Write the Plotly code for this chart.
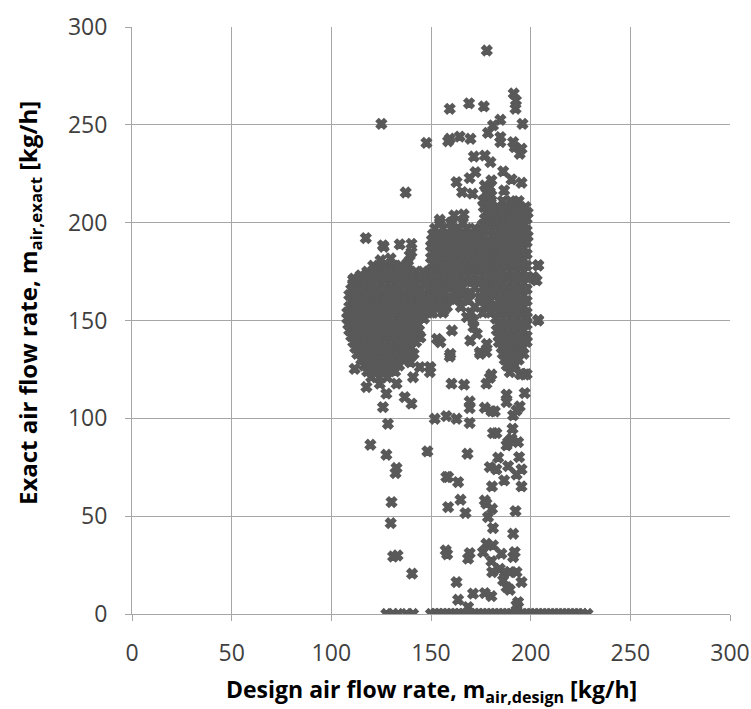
import plotly.graph_objects as go

# ---- dense cluster rows (y value, list of x values) ----
blob_rows_y = [178, 175, 172, 169, 166, 163, 160, 157, 154, 151, 148, 145, 142, 139, 136, 133, 130, 127, 124, 121]
blob_rows_x = [
    [121, 124.5, 128, 131.5, 135, 138.5],
    [118, 121.5, 125, 128.5, 132, 135.5, 139, 142.5, 146],
    [114, 117.5, 121, 124.5, 128, 131.5, 135, 138.5, 142, 145.5, 149],
    [111, 114.5, 118, 121.5, 125, 128.5, 132, 135.5, 139, 142.5, 146, 149.5, 153],
    [110, 113.5, 117, 120.5, 124, 127.5, 131, 134.5, 138, 141.5, 145, 148.5, 152, 155],
    [109, 112.5, 116, 119.5, 123, 126.5, 130, 133.5, 137, 140.5, 144, 147.5, 151, 154],
    [110, 113.5, 117, 120.5, 124, 127.5, 131, 134.5, 138, 141.5, 145, 148.5, 152, 155.5],
    [109, 112.5, 116, 119.5, 123, 126.5, 130, 133.5, 137, 140.5, 144, 147.5, 151, 154.5],
    [108, 111.5, 115, 118.5, 122, 125.5, 129, 132.5, 136, 139.5, 143, 146.5, 150],
    [108, 111.5, 115, 118.5, 122, 125.5, 129, 132.5, 136, 139.5, 143, 146.5],
    [108.5, 112, 115.5, 119, 122.5, 126, 129.5, 133, 136.5, 140, 143.5],
    [109, 112.5, 116, 119.5, 123, 126.5, 130, 133.5, 137, 140.5, 144],
    [110, 113.5, 117, 120.5, 124, 127.5, 131, 134.5, 138, 141.5],
    [111, 114.5, 118, 121.5, 125, 128.5, 132, 135.5, 139, 142.5],
    [112, 115.5, 119, 122.5, 126, 129.5, 133, 136.5, 140],
    [113, 116.5, 120, 123.5, 127, 130.5, 134, 137.5],
    [115, 118.5, 122, 125.5, 129, 132.5, 136],
    [116.5, 120, 123.5, 127, 130.5, 134],
    [118, 121.5, 125, 128.5, 132],
    [120, 124, 128],
]

mid_rows_y = [200, 197, 194, 191, 188, 185, 182, 179, 176, 173, 170, 167, 164, 161, 157, 154]
mid_rows_x = [
    [154.5, 160, 166],
    [152, 156, 160.5, 164, 168, 172],
    [151, 154.5, 158, 161.5, 165, 168.5, 172, 175.5],
    [150.5, 154, 157.5, 161, 164.5, 168, 171.5, 175, 178.5],
    [150, 153.5, 157, 160.5, 164, 167.5, 171, 174.5, 178, 181.5],
    [151, 154.5, 158, 161.5, 165, 168.5, 172, 175.5, 179, 182],
    [150, 153.5, 157, 160.5, 164, 167.5, 171, 174.5, 178, 181.5],
    [151, 154.5, 158, 161.5, 165, 168.5, 172, 175.5, 179, 182],
    [150, 153.5, 157, 160.5, 164, 167.5, 171, 174.5, 178, 181.5],
    [151, 154.5, 158, 161.5, 165, 168.5, 172, 175.5, 179, 182],
    [153.5, 157, 160.5, 164, 167.5, 171, 174.5, 178, 181.5],
    [155, 158.5, 162, 166, 172, 176, 179, 182],
    [152, 157, 163, 167, 170, 177, 180.5],
    [150, 155, 160, 164, 168, 175, 179],
    [149, 153, 158, 165, 172, 177, 180.5],
    [151, 156, 170, 176, 180],
]

col_rows_y = [211, 208, 205, 202, 199, 196, 193, 190, 187, 184, 181, 178, 175, 172, 169, 166, 163,
              160, 157, 154, 151, 148, 145, 142, 139, 136, 133, 130, 127]
col_rows_x = [
    [186, 190, 194],
    [183.5, 187, 190.5, 194, 197.5],
    [178, 181.5, 185, 188.5, 192, 195.5, 198.5],
    [177, 180.5, 184, 187.5, 191, 194.5, 198],
    [176, 179.5, 183, 186.5, 190, 193.5, 197],
    [177, 180.5, 184, 187.5, 191, 194.5, 198],
    [181.5, 185, 188.5, 192, 195.5, 198.5],
    [181, 184.5, 188, 191.5, 195, 198],
    [182.5, 186, 189.5, 193, 196.5],
    [184, 187.5, 191, 194.5, 198],
    [182.5, 186, 189.5, 193, 196.5],
    [184, 187.5, 191, 194.5, 198],
    [182.5, 186, 189.5, 193, 196.5],
    [184, 187.5, 191, 194.5, 198],
    [182.5, 186, 189.5, 193, 196.5],
    [184, 187.5, 191, 194.5, 198],
    [182.5, 186, 189.5, 193, 196.5],
    [184, 187.5, 191, 194.5, 198],
    [182.5, 186, 189.5, 193, 196.5],
    [184, 187.5, 191, 194.5, 198],
    [182.5, 186, 189.5, 193, 196.5],
    [184, 187.5, 191, 194.5, 198],
    [183, 186, 189.5, 193, 196.5],
    [184, 187.5, 191, 194.5, 198],
    [184, 187.5, 191, 194.5, 198],
    [185.5, 189, 192.5, 196],
    [186, 189.5, 193, 196.5],
    [187, 190.5, 194],
    [188, 192],
]

# ---- scattered individual points ----
scatter_x = [
    178, 191.5, 192.6, 159.4, 169.1, 176.5, 192.4, 125.1, 184.8, 181.1, 195.9, 178.6, 147.7, 159.4,
    164.4, 169.8, 158.6, 184.8, 184.8, 191.2, 192, 195.4, 194.5, 171.5, 177, 179.8, 172.3, 169.4,
    186.2, 190.4, 195.4, 162.8, 180.3, 179.5, 177.8, 180.3, 165.6, 170.8, 186.7, 137.3, 176.1, 178.6,
    177.8, 180.3, 178.6, 191.2, 186.2, 191.2, 154.4, 161.6, 166.4, 160.3, 117.3, 125.9, 134.3, 140.2,
    150.7, 140.2, 139.3, 110.9, 203.7, 202, 203.7, 177, 179, 178, 180, 176.5, 179,
    126.3, 129.7, 124.7, 138, 111.3, 114.7, 121.3,
    111.7, 117.6, 124.3, 127.6, 132.7, 136.8, 140.2, 125.9, 141, 144.4, 149.4, 149.4, 128.4, 119.6,
    127.6, 148.2, 132.7, 132.2, 130.2, 129.8, 131, 133.2, 140.5,
    153, 154.7, 160.5, 159.7, 169.7, 173, 171.3, 174.7, 178, 168, 171.3, 168.8, 174.7, 159.7, 154.7,
    156.3, 162.2, 144.7, 143, 144.7, 141.3, 149.7, 139.7, 198, 203.8, 189.7, 191.3, 194.7, 198,
    203.8, 201.3, 203,
    159.4, 174.5, 177.8, 187.9, 190.4, 189.5, 195.4, 197, 180.3, 179.5, 160.3, 166.6, 177.8, 197,
    187.9, 187.9, 169.4, 169.4, 177, 180.3, 182, 194.5, 192.9, 191.2, 151.9, 157.7, 162.8, 169.4,
    190.9, 181.1, 182.8, 190.4, 188.7, 193.7, 187.9, 168.3, 183.7, 194.2, 179.5, 182.8, 188.7, 195.4,
    192.9, 158.6, 163.6, 186.7, 195.4, 180.6, 158.6, 164.8, 167.3, 177, 177.8, 180.6, 192.4, 178.6,
    181.1, 191.2, 157.7, 157.4, 158.1, 169.4, 168.6, 177.8, 181.1, 176.1, 185.3, 180.3, 192, 191.2,
    180.7, 184.5, 187, 189.5, 192.9, 162.8, 186.2, 187.9, 189.5, 195.4, 163.6, 171.1, 177, 180.3,
    168.6, 193.7, 192.9,
]
scatter_y = [
    288, 266, 262.4, 258.2, 261, 259.4, 258.2, 250.5, 252.6, 249.7, 250.5, 245.9, 240.8, 242.9,
    244, 242.9, 241.6, 243.7, 241.2, 241.2, 238.6, 237.8, 235.2, 233.8, 234.3, 230.9, 225.8, 222.8,
    226.2, 222.1, 220.4, 220.7, 221.6, 218.1, 215.1, 213.9, 215.6, 214.8, 216.5, 215.4, 211.3, 211.3,
    207.9, 207.9, 204.5, 209.7, 206.2, 207.1, 201.5, 203.7, 204.2, 199.4, 192.1, 188.4, 188.9, 189.2,
    191.3, 184.9, 183.2, 170.8, 178.1, 171.3, 150, 219, 216, 213, 210, 208, 206,
    187.7, 181.7, 180.8, 179, 171.4, 173.1, 175.7,
    125.3, 116, 117.7, 112.6, 117.7, 110.8, 107.5, 105.7, 121, 126.2, 126.2, 123.6, 97.2, 86.5,
    81.4, 83.1, 74.6, 72, 57.2, 46.4, 29.4, 29.9, 20.6,
    140.6, 138.9, 144.9, 132.9, 139.7, 143.2, 146.6, 132.9, 138, 151.7, 150, 160.3, 162, 162, 160.3,
    155.1, 168.8, 162, 150, 141.4, 132.9, 126, 128.6, 151.7, 150.3, 132.9, 126, 122.6, 122.6,
    178.3, 172.3, 170.5,
    131.6, 133.8, 133.8, 133.8, 129.6, 123.6, 122.8, 122.4, 122.4, 120.7, 117.7, 117.2, 117.7, 112.9,
    112.1, 108.3, 108.6, 105.2, 105.4, 103.7, 103.5, 106.1, 104, 101.5, 99.8, 101.1, 99.8, 97.6,
    94.7, 92.4, 92.4, 89.6, 87.8, 87.8, 86.2, 81.9, 79.9, 80.2, 75.1, 73.9, 75.6, 73.9,
    71.3, 70, 67.4, 68.3, 65.2, 65.2, 54.6, 58.4, 51.6, 58, 56.4, 53.8, 52.6, 49.5,
    43.9, 41, 70, 32.5, 30.5, 31.1, 28.3, 35.9, 35.1, 31.6, 30.8, 27, 31.6, 29.1,
    21.4, 23.1, 21.4, 21.4, 21.4, 16.3, 17.2, 13.7, 12.4, 16.3, 7.3, 10.4, 10.7, 9.1,
    3.5, 6.1, 4.4,
]

# ---- points lying on zero exact flow ----
zero_x = [127.6, 131, 133.5, 137.7, 141,
          150, 152, 154, 156, 158, 160, 162, 164, 166, 168, 170, 172, 174, 176, 178, 180,
          182, 184, 186, 188, 190, 192, 194, 196, 198, 200, 202, 204, 206, 208, 210, 212,
          214, 216, 218, 220, 222, 224, 226, 228.5]
zero_y = [0] * len(zero_x)

xs, ys = [], []
for rows_y, rows_x in ((blob_rows_y, blob_rows_x), (mid_rows_y, mid_rows_x), (col_rows_y, col_rows_x)):
    for yv, row in zip(rows_y, rows_x):
        for xv in row:
            xs.append(xv)
            ys.append(yv)
xs += scatter_x + zero_x
ys += scatter_y + zero_y

GRID = "#a6a6a6"
FONT = "Open Sans"
MARK = "#595959"

fig = go.Figure()
fig.add_trace(go.Scatter(
    x=xs, y=ys, mode="markers",
    marker=dict(symbol="x", size=9, color=MARK, line=dict(width=1.5, color=MARK)),
    showlegend=False, hoverinfo="skip",
))

axis_common = dict(
    range=[0, 300], tick0=0, dtick=50, showgrid=True, gridcolor=GRID, gridwidth=1,
    showline=True, linecolor=GRID, linewidth=1, zeroline=False,
    ticks="outside", ticklen=6, tickcolor=GRID, automargin=False,
    tickfont=dict(size=23, color="#404040", family=FONT),
)
fig.update_xaxes(**axis_common, ticklabelstandoff=12)
fig.update_yaxes(**axis_common, ticklabelstandoff=13)

fig.update_layout(
    width=751, height=709,
    margin=dict(l=132, r=21, t=27, b=95),
    paper_bgcolor="white", plot_bgcolor="white",
    font=dict(family=FONT, color="#404040"),
    annotations=[
        dict(text="Design air flow rate, m<sub>air,design</sub> [kg/h]",
             xref="paper", yref="paper", x=0.5, y=-0.131, xanchor="center", yanchor="middle",
             showarrow=False, font=dict(size=23, color="black", family=FONT, weight="bold")),
        dict(text="Exact air flow rate, m<sub>air,exact</sub> [kg/h]",
             xref="paper", yref="paper", x=-0.172, y=0.53, xanchor="center", yanchor="middle",
             textangle=-90, showarrow=False,
             font=dict(size=24, color="black", family=FONT, weight="bold")),
    ],
)

fig.write_html("out.html")
